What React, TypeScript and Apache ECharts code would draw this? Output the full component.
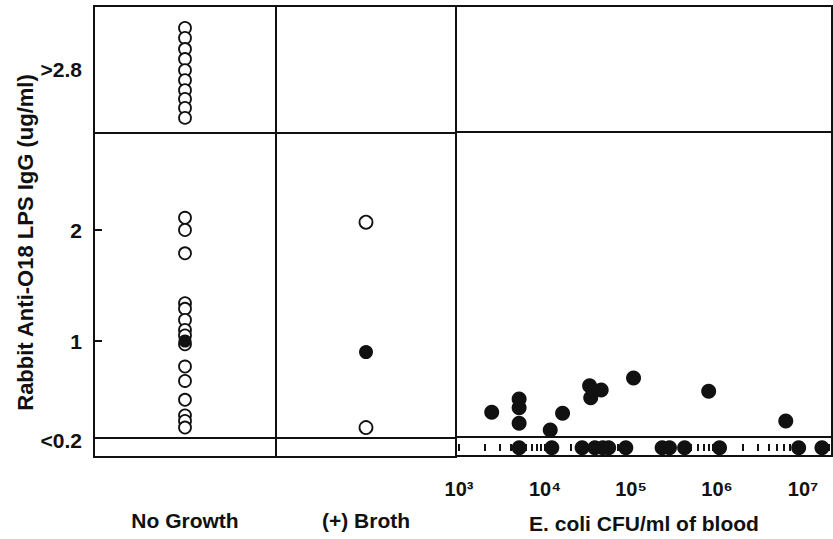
import { useEffect, useRef } from 'react';
import * as echarts from 'echarts';

// ---- text ----
const yTitle = 'Rabbit Anti-O18 LPS IgG (ug/ml)';
const xTitle = 'E. coli CFU/ml of blood';
const groupLabels = ['No Growth', '(+) Broth'];

// ---- y axis labels / ticks (ug/ml, display scale) ----
const yLabelValues = [0.1, 1, 2, 3.45];
const yLabelTexts = ['<0.2', '1', '2', '>2.8'];
const yTickValues = [1, 2];

// ---- x axis (CFU/ml, log) ----
const xTickCFU = [1e3, 1e4, 1e5, 1e6, 1e7];
const xTickLabels = ['10³', '10⁴', '10⁵', '10⁶', '10⁷'];
const minorMultipliers = [1, 2, 3, 4, 5, 6, 7, 8, 9];

// ---- reference lines ----
const breakLevel = 2.88;
const thresholdLevel = 0.13;

// ---- data ----
const noGrowthOpen = [
  3.82, 3.73, 3.63, 3.54, 3.44, 3.35, 3.26, 3.18, 3.1, 3.01,
  2.11, 2.0, 1.79,
  1.34, 1.29, 1.19, 1.1, 1.05, 0.97,
  0.77, 0.64, 0.47, 0.33, 0.28, 0.22,
];
const noGrowthFilled = [1.0];
const brothOpen = [2.07, 0.22];
const brothFilled = [0.9];
const ecoliCFU = [
  2400, 5000, 5000, 5000, 11500, 16000, 33000, 34000, 45000, 107000, 800000, 6300000,
  5000, 12000, 27000, 38000, 47000, 55000, 87000, 230000, 280000, 420000, 1070000, 8900000, 16600000,
];
const ecoliIgG = [
  0.35, 0.47, 0.39, 0.25, 0.19, 0.34, 0.59, 0.48, 0.55, 0.66, 0.54, 0.27,
  0.03, 0.03, 0.03, 0.03, 0.03, 0.03, 0.03, 0.03, 0.03, 0.03, 0.03, 0.03, 0.03,
];

// ---- layout ----
const Y_MIN = -0.045;
const Y_MAX = 4.018;
const X_LOG_MIN = 2.965;
const X_LOG_MAX = 7.337;
const INK = '#111';
const FONT = 'Liberation Sans';

export default function App() {
  const ref = useRef<HTMLDivElement>(null);

  useEffect(() => {
    if (!ref.current) return;
    const chart = echarts.init(ref.current, undefined, { renderer: 'svg' });

    const minorTicks: number[] = [];
    xTickCFU.concat([1e8]).forEach((d) => {
      minorMultipliers.forEach((m) => {
        const v = Math.log10(d * m);
        if (v > X_LOG_MIN + 0.01 && v < X_LOG_MAX) minorTicks.push(v);
      });
    });

    const gridBase = {
      top: 6,
      height: 451,
      show: true,
      borderColor: INK,
      borderWidth: 2,
      backgroundColor: 'transparent',
    };

    const hiddenY = (gridIndex: number) => ({
      type: 'value',
      gridIndex,
      min: Y_MIN,
      max: Y_MAX,
      splitLine: { show: false },
      axisLine: { show: false },
      axisTick: { show: false },
      axisLabel: { show: false },
    });

    const refLines = {
      silent: true,
      symbol: 'none',
      label: { show: false },
      emphasis: { disabled: true },
      lineStyle: { color: INK, width: 1.8, type: 'solid', opacity: 1 },
      data: [{ yAxis: breakLevel }, { yAxis: thresholdLevel }],
    };

    const catAxis = (gridIndex: number, label: string) => ({
      type: 'category',
      gridIndex,
      data: [label],
      axisLine: { show: false },
      axisTick: { show: false },
      axisLabel: {
        margin: 53,
        fontSize: 21,
        fontWeight: 'bold',
        fontFamily: FONT,
        color: INK,
      },
    });

    const openStyle = { color: '#fff', borderColor: INK, borderWidth: 1.8, opacity: 1 };
    const filledStyle = { color: INK, borderColor: INK, borderWidth: 0, opacity: 1 };

    chart.setOption({
      animation: false,
      backgroundColor: '#fff',
      grid: [
        { ...gridBase, left: 94, width: 182 },
        { ...gridBase, left: 276, width: 180 },
        { ...gridBase, left: 456, width: 376 },
      ],
      xAxis: [
        catAxis(0, groupLabels[0]),
        catAxis(1, groupLabels[1]),
        {
          type: 'value',
          gridIndex: 2,
          min: X_LOG_MIN,
          max: X_LOG_MAX,
          splitLine: { show: false },
          axisLine: { show: false },
          axisTick: {
            show: true,
            inside: true,
            length: 7,
            customValues: minorTicks,
            lineStyle: { color: INK, width: 2 },
          },
          axisLabel: {
            customValues: xTickCFU.map((v) => Math.log10(v)),
            formatter: (v: number) => {
              const i = xTickCFU.findIndex((c) => Math.abs(Math.log10(c) - v) < 1e-6);
              return i >= 0 ? xTickLabels[i] : '';
            },
            margin: 23,
            fontSize: 20,
            fontWeight: 'bold',
            fontFamily: FONT,
            color: INK,
          },
          name: xTitle,
          nameLocation: 'middle',
          nameGap: 57,
          nameTextStyle: {
            fontSize: 21,
            fontWeight: 'bold',
            fontFamily: FONT,
            color: INK,
            verticalAlign: 'top',
          },
        },
      ],
      yAxis: [
        {
          ...hiddenY(0),
          axisTick: {
            show: true,
            inside: true,
            length: 8,
            customValues: yTickValues,
            lineStyle: { color: INK, width: 2 },
          },
          axisLabel: {
            show: true,
            customValues: yLabelValues,
            formatter: (v: number) => {
              const i = yLabelValues.indexOf(v);
              return i >= 0 ? yLabelTexts[i] : '';
            },
            margin: 12,
            fontSize: 21,
            fontWeight: 'bold',
            fontFamily: FONT,
            color: INK,
          },
          name: yTitle,
          nameLocation: 'middle',
          nameRotate: 90,
          nameGap: 54,
          nameTextStyle: {
            fontSize: 22,
            fontWeight: 'bold',
            fontFamily: FONT,
            color: INK,
            padding: [0, 22, 0, 0],
          },
        },
        hiddenY(1),
        hiddenY(2),
      ],
      series: [
        {
          type: 'scatter',
          xAxisIndex: 0,
          yAxisIndex: 0,
          symbol: 'circle',
          symbolSize: 12,
          itemStyle: openStyle,
          data: noGrowthOpen.map((v) => [groupLabels[0], v]),
          markLine: refLines,
        },
        {
          type: 'scatter',
          xAxisIndex: 0,
          yAxisIndex: 0,
          symbol: 'circle',
          symbolSize: 13,
          itemStyle: filledStyle,
          data: noGrowthFilled.map((v) => [groupLabels[0], v]),
        },
        {
          type: 'scatter',
          xAxisIndex: 1,
          yAxisIndex: 1,
          symbol: 'circle',
          symbolSize: 13,
          itemStyle: openStyle,
          data: brothOpen.map((v) => [groupLabels[1], v]),
          markLine: refLines,
        },
        {
          type: 'scatter',
          xAxisIndex: 1,
          yAxisIndex: 1,
          symbol: 'circle',
          symbolSize: 14,
          itemStyle: filledStyle,
          data: brothFilled.map((v) => [groupLabels[1], v]),
        },
        {
          type: 'scatter',
          xAxisIndex: 2,
          yAxisIndex: 2,
          symbol: 'circle',
          symbolSize: 15,
          itemStyle: filledStyle,
          data: ecoliCFU.map((c, i) => [Math.log10(c), ecoliIgG[i]]),
          markLine: refLines,
        },
      ],
    });

    return () => chart.dispose();
  }, []);

  return (
    <div
      ref={ref}
      style={{ position: 'absolute', left: 0, top: 0, width: 833, height: 539 }}
    />
  );
}
